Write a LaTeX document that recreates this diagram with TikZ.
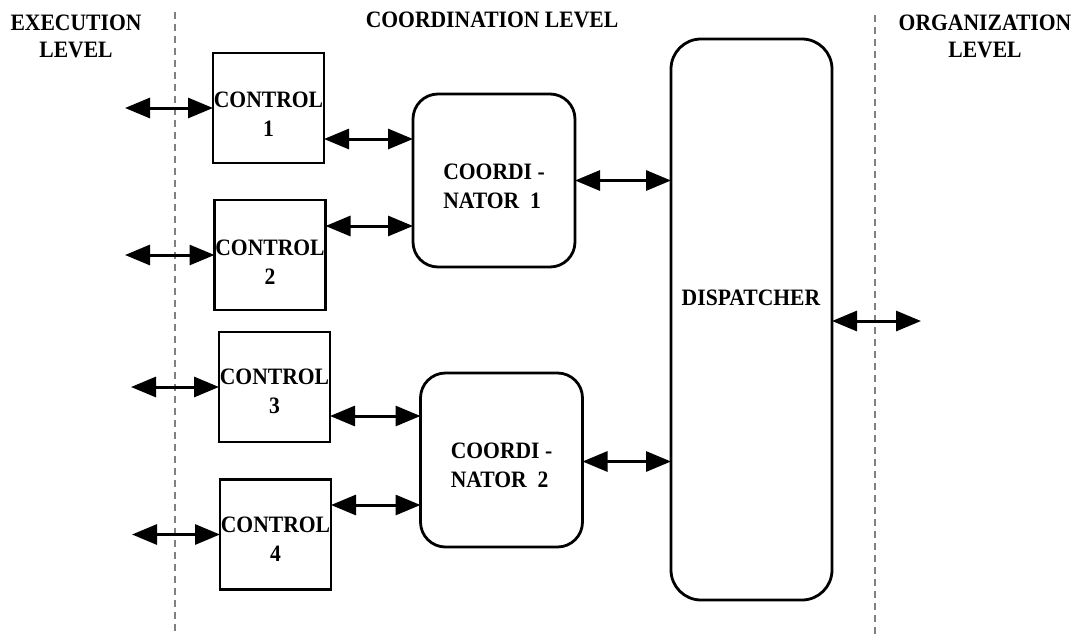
\documentclass[tikz,border=0pt]{standalone}
\usepackage{fontspec}
\setmainfont[FakeStretch=0.92]{Liberation Serif}
\usetikzlibrary{arrows.meta}
\begin{document}
\begin{tikzpicture}[x=1pt,y=-1pt,
  lbl/.style={font=\fontsize{23.5}{27}\selectfont\bfseries, inner sep=0pt, align=center},
  btext/.style={font=\fontsize{23.5}{29}\selectfont\bfseries, inner sep=0pt, anchor=north},
  ctrl/.style={draw, line width=2.8pt, minimum width=111pt, minimum height=110pt, inner sep=0pt, outer sep=0pt},
  coord/.style={draw, line width=2.8pt, rounded corners=25pt, minimum width=162pt, inner sep=0pt, outer sep=0pt},
  disp/.style={draw, line width=2.8pt, rounded corners=30pt, minimum width=161pt, minimum height=561pt, inner sep=0pt, outer sep=0pt},
  arr/.style={line width=3pt, {Triangle[length=25pt,width=20pt]}-{Triangle[length=25pt,width=20pt]}},
  sep/.style={draw=gray, line width=1.3pt, dash pattern=on 7pt off 5pt}
]
\useasboundingbox (0,0) rectangle (1079,635);

% level separators
\coordinate (s1t) at (175,12);  \coordinate (s1b) at (175,635);
\coordinate (s2t) at (875,15);  \coordinate (s2b) at (875,635);
\draw[sep] (s1t) -- (s1b);
\draw[sep] (s2t) -- (s2b);

% headings
\node[lbl, anchor=north] (hexec) at (76,15) {EXECUTION\\LEVEL};
\node[lbl, anchor=north] (hcoord) at (492,12) {COORDINATION LEVEL};
\node[lbl, anchor=north] (horg) at (985,15) {ORGANIZATION\\LEVEL};

% boxes
\node[ctrl] (c1) at (268.5,108) {};
\node[ctrl] (c2) at (270,255) {};
\node[ctrl] (c3) at (274.5,387) {};
\node[ctrl] (c4) at (275.5,534.5) {};
\node[coord, minimum height=173pt] (k1) at (494,180.5) {};
\node[coord, minimum height=174pt] (k2) at (501.5,460) {};
\node[disp] (d) at (751.5,319.5) {};

% box texts
\node[btext, align=center] (c1t) at ([yshift=16pt]c1.center) {CONTROL\\1};
\node[btext, align=center] (c2t) at ([yshift=15pt]c2.center) {CONTROL\\2};
\node[btext, align=center] (c3t) at ([yshift=18.5pt]c3.center) {CONTROL\\3};
\node[btext, align=center] (c4t) at ([yshift=18pt]c4.center) {CONTROL\\4};
\node[btext, align=left] (k1t) at ([yshift=17pt]k1.center) {COORDI -\\NATOR~~1};
\node[btext, align=left] (k2t) at ([yshift=17.5pt]k2.center) {COORDI -\\NATOR~~2};
\node[btext] (dt) at (751,290) {DISPATCHER};

% free ends
\coordinate (e1) at (125,108);
\coordinate (e2) at (125,255);
\coordinate (e3) at (131,387);
\coordinate (e4) at (132,534.5);
\coordinate (o) at (921,321);

% connectors
\draw[arr] (e1) -- (c1.west);
\draw[arr] (e2) -- (c2.west);
\draw[arr] (e3) -- (c3.west);
\draw[arr] (e4) -- (c4.west);
\draw[arr] (c1.east |- 0,139) -- (k1.west |- 0,139);
\draw[arr] (c2.east |- 0,226) -- (k1.west |- 0,226);
\draw[arr] (c3.east |- 0,416) -- (k2.west |- 0,416);
\draw[arr] (c4.east |- 0,505) -- (k2.west |- 0,505);
\draw[arr] (k1.east) -- (d.west |- k1.east);
\draw[arr] (k2.east |- 0,461.5) -- (d.west |- 0,461.5);
\draw[arr] (d.east |- o) -- (o);
\end{tikzpicture}
\end{document}
